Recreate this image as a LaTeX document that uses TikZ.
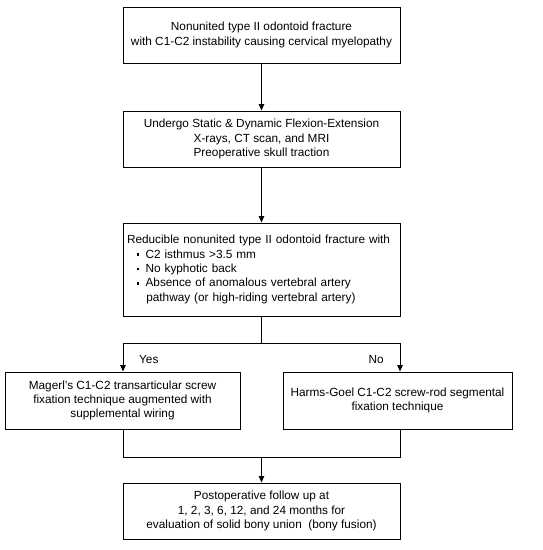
\documentclass[tikz,border=0pt]{standalone}
\usepackage{fontspec}
\setmainfont{Liberation Sans}
\usetikzlibrary{arrows.meta}
\tikzset{
  box/.style={draw, line width=1pt, rectangle, align=center, inner sep=3pt,
    font=\fontsize{11.8}{14.3}\selectfont},
  conn/.style={line width=1pt},
  arr/.style={line width=1pt, -{Triangle[length=6.5pt,width=5.5pt]}},
  lbl/.style={font=\fontsize{11.8}{14.3}\selectfont, inner sep=0pt}
}
\newcommand{\sqbul}{\raisebox{2.2pt}{\rule{2.6pt}{2.6pt}}}
\begin{document}
\begin{tikzpicture}[x=1pt,y=-1pt]
\useasboundingbox (0,0) rectangle (543,550);
\node[box, minimum width=277pt, minimum height=56pt] (b1) at (261.5,35)
  {Nonunited type II odontoid fracture\\with C1-C2 instability causing cervical myelopathy};
\node[box, minimum width=277pt, minimum height=56pt] (b2) at (261.5,139)
  {Undergo Static \& Dynamic Flexion-Extension\\X-rays, CT scan, and MRI\\Preoperative skull traction};
\node[box, minimum width=277pt, minimum height=93pt, text width=269pt, align=left, inner xsep=4pt] (b3) at (261.5,269.5)
  {Reducible nonunited type II odontoid fracture with\\
   \hspace*{9.5pt}\sqbul\hspace{6.5pt}C2 isthmus {>}3.5 mm\\
   \hspace*{9.5pt}\sqbul\hspace{6.5pt}No kyphotic back\\
   \hspace*{9.5pt}\sqbul\hspace{6.5pt}Absence of anomalous vertebral artery\\
   \hspace*{19.3pt}pathway (or high-riding vertebral artery)};
\node[box, minimum width=235pt, minimum height=57pt] (bl) at (122.5,400.5)
  {Magerl's C1-C2 transarticular screw\\fixation technique augmented with\\supplemental wiring};
\node[box, minimum width=229pt, minimum height=57pt] (br) at (397.5,400.5)
  {Harms-Goel C1-C2 screw-rod segmental\\fixation technique};
\node[box, minimum width=277pt, minimum height=56pt] (b4) at (261.5,511)
  {Postoperative follow up at\\1, 2, 3, 6, 12, and 24 months for\\evaluation of solid bony union\ \ (bony fusion)};
\coordinate (split) at (261.5,343);
\coordinate (sl) at (123,343);
\coordinate (sr) at (400,343);
\coordinate (ml) at (123,457);
\coordinate (mr) at (400,457);
\coordinate (mm) at (261.5,457);
\draw[arr] (b1) -- (b2);
\draw[arr] (b2) -- (b3);
\draw[conn] (b3.south) -- (split);
\draw[conn] (sl) -- (sr);
\draw[arr] (sl) -- (sl |- bl.north);
\draw[arr] (sr) -- (sr |- br.north);
\draw[conn] (ml |- bl.south) -- (ml) -- (mr) -- (mr |- br.south);
\draw[arr] (mm) -- (b4.north);
\node[lbl, anchor=west] (yes) at (139,359) {Yes};
\node[lbl, anchor=east] (no) at (384,359) {No};
\end{tikzpicture}
\end{document}
